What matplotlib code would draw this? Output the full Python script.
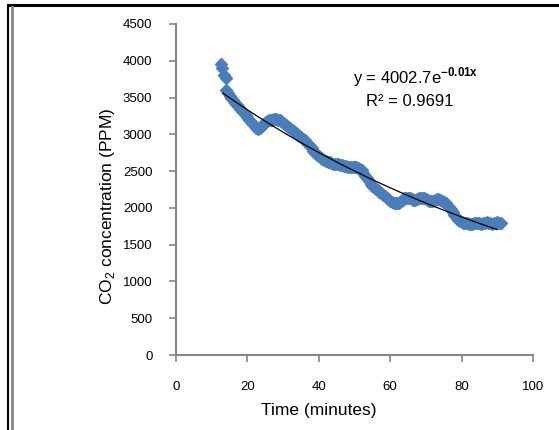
import numpy as np
import matplotlib.pyplot as plt
from matplotlib.lines import Line2D

plt.rcParams['font.family'] = ['Liberation Sans', 'DejaVu Sans']
plt.rcParams['mathtext.fontset'] = 'custom'
plt.rcParams['mathtext.rm'] = 'Liberation Sans'
plt.rcParams['mathtext.bf'] = 'Liberation Sans:bold'

# CO2 readings (minutes, ppm)
time_min = [12.5, 13.0, 13.5, 14.0,
            14.0, 14.5, 15.0, 15.5, 16.0, 16.5, 17.0, 17.5, 18.0, 18.5,
            19.0, 19.5, 20.0, 20.5, 21.0, 21.5, 22.0, 22.5, 23.0, 23.5,
            24.0, 24.5, 25.0, 25.5, 26.0, 26.5, 27.0, 27.5, 28.0, 28.5,
            29.0, 29.5, 30.0, 30.5, 31.0, 31.5, 32.0, 32.5, 33.0, 33.5,
            34.0, 34.5, 35.0, 35.5, 36.0, 36.5, 37.0, 37.5, 38.0, 38.5,
            39.0, 39.5, 40.0, 40.5, 41.0, 41.5, 42.0, 42.5, 43.0, 43.5,
            44.0, 44.5, 45.0, 45.5, 46.0, 46.5, 47.0, 47.5, 48.0, 48.5,
            49.0, 49.5, 50.0, 50.5, 51.0, 51.5, 52.0, 52.5, 53.0, 53.5,
            54.0, 54.5, 55.0, 55.5, 56.0, 56.5, 57.0, 57.5, 58.0, 58.5,
            59.0, 59.5, 60.0, 60.5, 61.0, 61.5, 62.0, 62.5, 63.0, 63.5,
            64.0, 64.5, 65.0, 65.5, 66.0, 66.5, 67.0, 67.5, 68.0, 68.5,
            69.0, 69.5, 70.0, 70.5, 71.0, 71.5, 72.0, 72.5, 73.0, 73.5,
            74.0, 74.5, 75.0, 75.5, 76.0, 76.5, 77.0, 77.5, 78.0, 78.5,
            79.0, 79.5, 80.0, 80.5, 81.0, 81.5, 82.0, 82.5, 83.0, 83.5,
            84.0, 84.5, 85.0, 85.5, 86.0, 86.5, 87.0, 87.5, 88.0, 88.5,
            89.0, 89.5, 90.0, 90.5, 91.0]
co2_ppm = [3950, 3900, 3800, 3760,
           3600, 3560, 3520, 3500, 3460, 3430, 3400, 3380, 3350, 3320,
           3290, 3260, 3240, 3200, 3170, 3140, 3110, 3090, 3070, 3080,
           3110, 3140, 3160, 3180, 3190, 3200, 3200, 3210, 3210, 3200,
           3190, 3180, 3160, 3140, 3120, 3100, 3080, 3060, 3040, 3020,
           3000, 2980, 2960, 2940, 2920, 2900, 2870, 2840, 2810, 2780,
           2750, 2720, 2700, 2680, 2660, 2650, 2640, 2630, 2620, 2610,
           2600, 2600, 2590, 2590, 2580, 2580, 2570, 2570, 2560, 2560,
           2560, 2560, 2550, 2550, 2540, 2530, 2510, 2480, 2440, 2400,
           2360, 2330, 2300, 2280, 2260, 2240, 2220, 2200, 2180, 2160,
           2140, 2120, 2100, 2080, 2070, 2060, 2060, 2070, 2090, 2110,
           2130, 2140, 2140, 2130, 2120, 2110, 2110, 2120, 2130, 2140,
           2140, 2130, 2120, 2110, 2100, 2100, 2100, 2110, 2120, 2120,
           2110, 2100, 2080, 2060, 2040, 2010, 1980, 1940, 1900, 1870,
           1840, 1820, 1810, 1800, 1790, 1790, 1780, 1780, 1780, 1790,
           1800, 1800, 1790, 1780, 1790, 1800, 1810, 1800, 1790, 1780,
           1790, 1800, 1810, 1800, 1790]

x_ticks = [0, 20, 40, 60, 80, 100]
y_ticks = [0, 500, 1000, 1500, 2000, 2500, 3000, 3500, 4000, 4500]

fig = plt.figure(figsize=(5.59, 4.30), dpi=100)
ax = fig.add_axes([176 / 559, 75 / 430, 357 / 559, 331 / 430])

ax.plot(time_min, co2_ppm, linestyle='none', marker='D', markersize=6.2,
        color='#4a7ebb', markeredgecolor='#4a7ebb')

# exponential trendline, fitted like Excel does (log-linear)
t = np.array(time_min)
c = np.array(co2_ppm)
b, ln_a = np.polyfit(t, np.log(c), 1)
t_fit = np.linspace(t.min() + 0.6, t.max() - 1, 100)
ax.plot(t_fit, np.exp(ln_a) * np.exp(b * t_fit), color='black', linewidth=0.9)

ax.text(67, 3770, r'y = 4002.7e$^{\mathbf{-0.01x}}$', ha='center', va='center',
        fontsize=12)
ax.text(65.5, 3450, 'R² = 0.9691', ha='center', va='center', fontsize=12)

ax.set_xlim(0, 100)
ax.set_ylim(0, 4500)
ax.set_xticks(x_ticks)
ax.set_yticks(y_ticks)
ax.tick_params(colors='#868686', labelcolor='black', labelsize=9.5,
               direction='out', length=5, width=1.2)
ax.tick_params(axis='x', pad=14)
ax.tick_params(axis='y', pad=12)
for side in ['top', 'right']:
    ax.spines[side].set_visible(False)
for side in ['left', 'bottom']:
    ax.spines[side].set_color('#868686')
    ax.spines[side].set_linewidth(1.5)

ax.set_xlabel('Time (minutes)', fontsize=12.5)
ax.xaxis.set_label_coords(0.40, -0.145)
ax.set_ylabel(r'CO$_2$ concentration (PPM)', fontsize=12.5)
ax.yaxis.set_label_coords(-0.165, 0.45)

# outer frame, only top and left edges fall inside the picture
fig.add_artist(Line2D([8 / 559, 1], [1 - 5 / 430] * 2, color='black', linewidth=2.2))
fig.add_artist(Line2D([8 / 559] * 2, [0, 1 - 5 / 430], color='black', linewidth=1.5))
fig.add_artist(Line2D([11.5 / 559] * 2, [0, 1 - 7 / 430], color='#888888', linewidth=2))

fig.savefig('out.png', dpi=100)
plt.close(fig)
